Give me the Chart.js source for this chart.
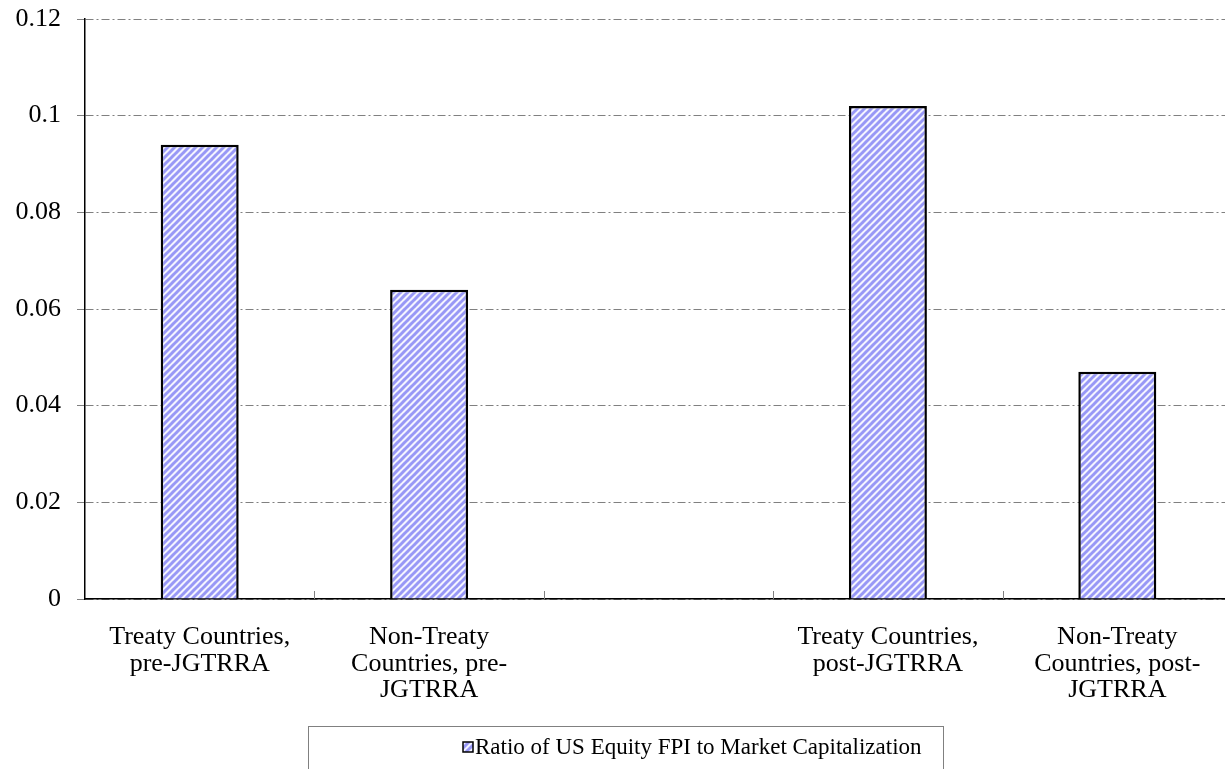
<!DOCTYPE html>
<html>
<head>
<meta charset="utf-8">
<script src="https://cdn.jsdelivr.net/npm/chart.js@4/dist/chart.umd.min.js"></script>
<style>
  html, body { margin: 0; padding: 0; background: #fff; overflow: hidden; }
  #wrap { width: 1240px; height: 769px; }
</style>
</head>
<body>
<div id="wrap"><canvas id="grafico"></canvas></div>
<script>
// === Datos ===
const categorias = [
  ["Treaty Countries,", "pre-JGTRRA"],
  ["Non-Treaty", "Countries, pre-", "JGTRRA"],
  "",
  ["Treaty Countries,", "post-JGTRRA"],
  ["Non-Treaty", "Countries, post-", "JGTRRA"]
];
const ratios = [0.094, 0.064, null, 0.102, 0.047];
const serieNombre = "Ratio of US Equity FPI to Market Capitalization";
const ejeY = { min: 0, max: 0.12, paso: 0.02 };

const fuente = "'Liberation Serif', 'Times New Roman', serif";

// === Relleno rayado ===
function rayado() {
  const n = 7;
  const c = document.createElement("canvas");
  c.width = n; c.height = n;
  const g = c.getContext("2d");
  g.fillStyle = "#f4f4ff";
  g.fillRect(0, 0, n, n);
  g.strokeStyle = "#9898f6";
  g.lineWidth = 3;
  for (let k = -n; k <= 2 * n; k += n) {
    g.beginPath();
    g.moveTo(k - 1, n + 1);
    g.lineTo(k + n + 1, -1);
    g.stroke();
  }
  return g.createPattern(c, "repeat");
}
const patron = rayado();

// === Marcas y leyenda ===
const extras = {
  id: "extras",
  afterDraw(chart) {
    const ctx = chart.ctx;
    const x = chart.scales.x;
    const a = chart.chartArea;
    ctx.save();
    // marcas del eje x hacia adentro
    ctx.strokeStyle = "#808080";
    ctx.lineWidth = 1;
    for (let i = 1; i < categorias.length; i++) {
      const px = Math.round((x.getPixelForValue(i - 1) + x.getPixelForValue(i)) / 2) + 0.5;
      ctx.beginPath();
      ctx.moveTo(px, a.bottom);
      ctx.lineTo(px, a.bottom - 8);
      ctx.stroke();
    }
    // leyenda
    ctx.fillStyle = "#fff";
    ctx.strokeStyle = "#808080";
    ctx.fillRect(308.5, 726.5, 635, 50);
    ctx.strokeRect(308.5, 726.5, 635, 50);
    ctx.fillStyle = patron;
    ctx.fillRect(463, 742, 10, 10);
    ctx.strokeStyle = "#000";
    ctx.lineWidth = 1.5;
    ctx.strokeRect(463, 742, 10, 10);
    ctx.fillStyle = "#000";
    ctx.font = "23px " + fuente;
    ctx.textBaseline = "middle";
    ctx.textAlign = "left";
    ctx.fillText(serieNombre, 475, 748);
    ctx.restore();
  }
};

new Chart(document.getElementById("grafico"), {
  type: "bar",
  data: {
    labels: categorias,
    datasets: [{
      label: serieNombre,
      data: ratios,
      backgroundColor: patron,
      borderColor: "#000",
      borderWidth: 2.5,
      borderSkipped: "bottom",
      barPercentage: 1,
      categoryPercentage: 0.34
    }]
  },
  options: {
    responsive: true,
    maintainAspectRatio: false,
    animation: false,
    devicePixelRatio: 1,
    layout: {
      padding: { top: 19, right: 8, bottom: 43, left: 0 }
    },
    plugins: {
      legend: { display: false },
      tooltip: { enabled: false }
    },
    scales: {
      x: {
        grid: { display: false, drawTicks: false },
        border: { display: true, color: "#000", width: 1.5 },
        ticks: {
          color: "#000",
          font: { family: fuente, size: 26, lineHeight: 1.02 },
          padding: 25,
          maxRotation: 0,
          autoSkip: false
        },
        afterFit(s) { s.height = 127; s.paddingLeft = 0; s.paddingRight = 0; }
      },
      y: {
        min: ejeY.min,
        max: ejeY.max,
        ticks: {
          stepSize: ejeY.paso,
          color: "#000",
          font: { family: fuente, size: 26 },
          padding: 16,
          callback: v => +v.toFixed(2)
        },
        grid: {
          color: "#808080",
          lineWidth: 1,
          tickLength: 8,
          tickColor: "#808080"
        },
        border: { display: true, color: "#000", width: 1.5, dash: [8, 3, 2, 3] },
        afterFit(s) { s.width = 85; s.paddingTop = 0; s.paddingBottom = 0; }
      }
    }
  },
  plugins: [extras]
});
</script>
</body>
</html>
